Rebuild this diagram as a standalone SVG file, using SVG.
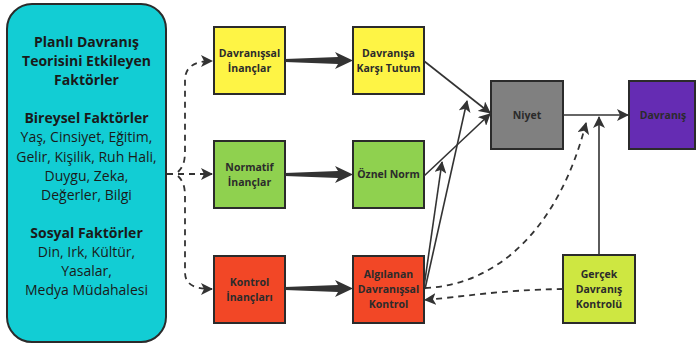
<svg xmlns="http://www.w3.org/2000/svg" width="696" height="346" viewBox="0 0 696 346">
<style>
.box{stroke:#2b2b2b;stroke-width:2}
.t{font-family:"Open Sans","Liberation Sans",sans-serif;font-size:10.5px;font-weight:700;fill:#2b2b2b;text-anchor:middle}
.h{font-family:"Open Sans","Liberation Sans",sans-serif;font-size:14px;font-weight:700;fill:#1a1a1a;text-anchor:middle}
.r{font-family:"Open Sans","Liberation Sans",sans-serif;font-size:14px;fill:#1a1a1a;text-anchor:middle}
.ln{fill:none;stroke:#333;stroke-width:1.6}
.ds{fill:none;stroke:#333;stroke-width:1.8;stroke-dasharray:6 5}
.thick{fill:#333}
</style>
<defs>
<marker id="ah" viewBox="0 0 12 12" refX="11" refY="6" markerWidth="12" markerHeight="12" markerUnits="userSpaceOnUse" orient="auto">
<path d="M0,0 L12,6 L0,12 L3,6 Z" fill="#333"/>
</marker>
<path id="fat" d="M0,-1.5 L53,-3.5 L50,-8.5 L68,0 L50,8.5 L53,3.5 L0,1.5 Z"/>
</defs>

<g id="factors">
<rect class="box" x="7" y="4" width="159" height="338" rx="25" fill="#12cdd4"/>
<text class="h" x="86.5" y="47">Planlı Davranış</text>
<text class="h" x="86.5" y="66">Teorisini Etkileyen</text>
<text class="h" x="86.5" y="85">Faktörler</text>
<text class="h" x="86.5" y="123">Bireysel Faktörler</text>
<text class="r" x="86.5" y="142">Yaş, Cinsiyet, Eğitim,</text>
<text class="r" x="86.5" y="162">Gelir, Kişilik, Ruh Hali,</text>
<text class="r" x="86.5" y="181">Duygu, Zeka,</text>
<text class="r" x="86.5" y="200">Değerler, Bilgi</text>
<text class="h" x="86.5" y="238">Sosyal Faktörler</text>
<text class="r" x="86.5" y="257">Din, Irk, Kültür,</text>
<text class="r" x="86.5" y="276">Yasalar,</text>
<text class="r" x="86.5" y="295">Medya Müdahalesi</text>
</g>

<g id="davranissal-inanclar">
<rect class="box" x="214" y="27" width="71" height="67" fill="#fef445"/>
<text class="t" x="249.5" y="57">Davranışsal</text>
<text class="t" x="249.5" y="72">İnançlar</text>
</g>
<g id="tutum">
<rect class="box" x="353" y="27" width="71" height="67" fill="#fef445"/>
<text class="t" x="388.5" y="57">Davranışa</text>
<text class="t" x="388.5" y="72">Karşı Tutum</text>
</g>
<g id="normatif-inanclar">
<rect class="box" x="214" y="141" width="71" height="67" fill="#8fd14f"/>
<text class="t" x="249.5" y="171">Normatif</text>
<text class="t" x="249.5" y="186">İnançlar</text>
</g>
<g id="oznel-norm">
<rect class="box" x="353" y="141" width="71" height="67" fill="#8fd14f"/>
<text class="t" x="388.5" y="178">Öznel Norm</text>
</g>
<g id="kontrol-inanclari">
<rect class="box" x="214" y="256" width="71" height="67" fill="#f24726"/>
<text class="t" x="249.5" y="286">Kontrol</text>
<text class="t" x="249.5" y="301">İnançları</text>
</g>
<g id="algilanan">
<rect class="box" x="353" y="256" width="71" height="67" fill="#f24726"/>
<text class="t" x="388.5" y="278">Algılanan</text>
<text class="t" x="388.5" y="293">Davranışsal</text>
<text class="t" x="388.5" y="308">Kontrol</text>
</g>
<g id="niyet">
<rect class="box" x="491" y="81" width="72" height="68" fill="#808080"/>
<text class="t" x="527" y="119">Niyet</text>
</g>
<g id="davranis">
<rect class="box" x="629" y="81" width="66" height="68" fill="#652cb3"/>
<text class="t" x="663" y="119">Davranış</text>
</g>
<g id="gercek">
<rect class="box" x="563" y="255" width="72" height="68" fill="#cee741"/>
<text class="t" x="599" y="278">Gerçek</text>
<text class="t" x="599" y="293">Davranış</text>
<text class="t" x="599" y="308">Kontrolü</text>
</g>

<g id="connectors">
<path class="ds" d="M167,174 L212,174" marker-end="url(#ah)"/>
<path class="ds" d="M178,172 C184,166 185,160 185,150 L185,80 C185,68 193,61 212,61" marker-end="url(#ah)"/>
<path class="ds" d="M178,176 C184,182 185,188 185,198 L185,272 C185,284 193,289 212,289" marker-end="url(#ah)"/>
<use href="#fat" class="thick" transform="translate(285,60.5)"/>
<use href="#fat" class="thick" transform="translate(285,174.5)"/>
<use href="#fat" class="thick" transform="translate(285,288.5)"/>
<path class="ln" d="M424,61 L490,113" marker-end="url(#ah)"/>
<path class="ln" d="M424,176 L490,114" marker-end="url(#ah)"/>
<path class="ln" d="M424,287 L442,162" marker-end="url(#ah)"/>
<path class="ln" d="M425,289 L467,101" marker-end="url(#ah)"/>
<path class="ln" d="M563,115 L628,115" marker-end="url(#ah)"/>
<path class="ln" d="M599,255 L599,117" marker-end="url(#ah)"/>
<path class="ds" d="M425,288 C500,285 560,225 586,123" marker-end="url(#ah)"/>
<path class="ds" d="M563,289 C500,290 460,297 425,300" marker-end="url(#ah)"/>
</g>
</svg>
